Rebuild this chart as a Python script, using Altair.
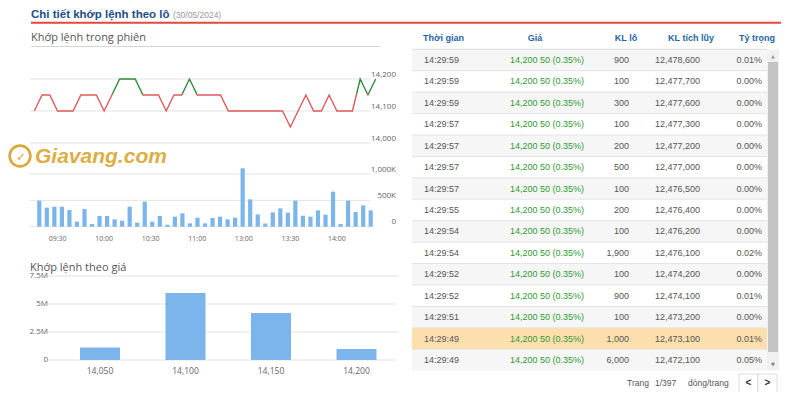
import altair as alt
import pandas as pd

# ---------------- data ----------------
# intraday price line (one point per 5-minute slot)
line_price = [14100, 14150, 14150, 14100, 14100, 14100, 14150, 14150, 14150, 14100,
              14150, 14200, 14200, 14200, 14150, 14150, 14150, 14100, 14150, 14150,
              14200, 14150, 14150, 14150, 14150, 14100, 14100, 14100, 14100, 14100,
              14100, 14100, 14100, 14050, 14100, 14150, 14100, 14100, 14150, 14100,
              14100, 14100, 14200, 14150, 14200]
# matched volume per slot (shares)
slot_volume = [494000, 361000, 380000, 380000, 316000, 95000, 335000, 50000, 203000, 203000,
               140000, 114000, 380000, 76000, 475000, 95000, 203000, 38000, 190000, 253000,
               63000, 171000, 63000, 165000, 190000, 140000, 171000, 1108000, 519000, 234000,
               63000, 272000, 348000, 266000, 494000, 209000, 190000, 310000, 228000, 665000,
               50000, 494000, 278000, 405000, 310000]
time_tick_slots = [3, 9, 15, 21, 27, 33, 39]
time_tick_labels = ["09:30", "10:00", "10:30", "11:00", "13:00", "13:30", "14:00"]
price_ticks = [14000, 14100, 14200]
price_tick_labels = ["14,000", "14,100", "14,200"]
vol_ticks = [0, 500000, 1000000]
vol_tick_labels = ["0", "500K", "1,000K"]

# volume by price
price_levels = ["14,050", "14,100", "14,150", "14,200"]
price_level_volume = [1110000, 5990000, 4190000, 990000]
pv_ticks = [0, 2500000, 5000000, 7500000]
pv_tick_labels = ["0", "2.5M", "5M", "7.5M"]

# trade table
times = ["14:29:59", "14:29:59", "14:29:59", "14:29:57", "14:29:57", "14:29:57", "14:29:57",
         "14:29:55", "14:29:54", "14:29:54", "14:29:52", "14:29:52", "14:29:51", "14:29:49",
         "14:29:49"]
prices = ["14,200 50 (0.35%)"] * 15
lots = [900, 100, 300, 100, 200, 500, 100, 200, 100, 1900, 100, 900, 100, 1000, 6000]
cumulative = [12478600, 12477700, 12477600, 12477300, 12477200, 12477000, 12476500,
              12476400, 12476200, 12476100, 12474200, 12474100, 12473200, 12473100, 12472100]
weights = ["0.01%", "0.00%", "0.00%", "0.00%", "0.00%", "0.00%", "0.00%", "0.00%", "0.00%",
           "0.02%", "0.00%", "0.01%", "0.00%", "0.01%", "0.05%"]
headers = ["Thời gian", "Giá", "KL lô", "KL tích lũy", "Tỷ trọng"]

# ---------------- styling ----------------
FONT = "Open Sans"
TFONT = "Liberation Sans"
RED = "#e05a5a"
GREEN = "#2f8c3a"
BLUE_BAR = "#7cb5ec"
GRID = "#e3e3e3"
LABEL = "#666666"
GOLD = "#d9a93a"


def P(v):
    return v - 8


blank = alt.InlineData(values=[{}])


def text(t, x, y, size, color, weight="normal", align="left", font=FONT, style="normal",
         baseline="middle"):
    return alt.Chart(blank).mark_text(
        text=t, align=align, baseline=baseline, fontSize=size, color=color,
        fontWeight=weight, font=font, fontStyle=style
    ).encode(x=alt.value(P(x)), y=alt.value(P(y)))


def hline(x1, x2, y, color, w=1):
    return alt.Chart(blank).mark_rule(color=color, strokeWidth=w).encode(
        x=alt.value(P(x1)), x2=alt.value(P(x2)), y=alt.value(P(y)))


def box(x1, x2, y1, y2, fill, stroke=None, sw=0, radius=0):
    kw = dict(fill=fill, strokeWidth=sw, cornerRadius=radius)
    if stroke:
        kw["stroke"] = stroke
    return alt.Chart(blank).mark_rect(**kw).encode(
        x=alt.value(P(x1)), x2=alt.value(P(x2)), y=alt.value(P(y1)), y2=alt.value(P(y2)))


layers = []

# ---------------- headings ----------------
layers.append(text("Chi tiết khớp lệnh theo lô", 31, 18.3, 11.5, "#1d4f84", weight="bold",
                   font=TFONT, baseline="alphabetic"))
layers.append(text("(30/05/2024)", 173, 18.3, 8.5, "#9a9a9a", font=TFONT,
                   baseline="alphabetic"))
layers.append(hline(31, 781, 22.8, "#e5473d", 2))
layers.append(text("Khớp lệnh trong phiên", 31, 38, 11, "#555555"))
layers.append(hline(31, 380, 46.5, "#d5d5d5", 1))

# ---------------- intraday line chart ----------------
slot_x = alt.Scale(domain=[0, 44], range=[P(34.3), P(375.7)], nice=False, zero=False)
price_y = alt.Scale(domain=[14000, 14200], range=[P(143), P(79)], nice=False, zero=False)

price_tick_df = pd.DataFrame({"v": price_ticks, "lab": price_tick_labels})
layers.append(alt.Chart(price_tick_df).mark_rule(color=GRID, strokeWidth=1).encode(
    y=alt.Y("v:Q", scale=price_y, axis=None), x=alt.value(P(30)), x2=alt.value(P(370))))
layers.append(alt.Chart(price_tick_df).mark_text(
    align="right", baseline="middle", dy=-4.5, fontSize=8, font=FONT, color=LABEL).encode(
    y=alt.Y("v:Q", scale=price_y, axis=None), x=alt.value(P(396)), text="lab:N"))

line_df = pd.DataFrame({"slot": list(range(len(line_price))), "price": line_price})
grad = alt.LinearGradient(
    gradient="linear",
    stops=[alt.GradientStop(color=GREEN, offset=0), alt.GradientStop(color=GREEN, offset=0.31),
           alt.GradientStop(color=RED, offset=0.31), alt.GradientStop(color=RED, offset=1)],
    x1=0, x2=0, y1=0, y2=1)
layers.append(alt.Chart(line_df).mark_line(stroke=grad, strokeWidth=1.4).encode(
    x=alt.X("slot:Q", scale=slot_x, axis=None),
    y=alt.Y("price:Q", scale=price_y, axis=None)))

# ---------------- watermark ----------------
layers.append(alt.Chart(blank).mark_point(shape="circle", size=430, filled=False,
                                          color=GOLD, strokeWidth=2.6, opacity=1).encode(
    x=alt.value(P(20)), y=alt.value(P(156))))
layers.append(text("✓", 21, 157, 12, GOLD, weight="bold", align="center",
                   font="DejaVu Sans"))
layers.append(text("Giavang.com", 35, 163, 21, "#dcae45", weight="bold", style="italic",
                   font=TFONT, baseline="alphabetic"))

# ---------------- volume by time ----------------
vol_y = alt.Scale(domain=[0, 1000000], range=[P(226.7), P(174)], nice=False, zero=False)
vol_tick_df = pd.DataFrame({"v": vol_ticks, "lab": vol_tick_labels})
layers.append(alt.Chart(vol_tick_df).mark_rule(color=GRID, strokeWidth=1).encode(
    y=alt.Y("v:Q", scale=vol_y, axis=None), x=alt.value(P(30)), x2=alt.value(P(370))))
layers.append(alt.Chart(vol_tick_df).mark_text(
    align="right", baseline="middle", dy=-4.5, fontSize=8, font=FONT, color=LABEL).encode(
    y=alt.Y("v:Q", scale=vol_y, axis=None), x=alt.value(P(396)), text="lab:N"))

vol_df = pd.DataFrame({"slot": list(range(len(slot_volume))), "vol": slot_volume})
layers.append(alt.Chart(vol_df).mark_bar(orient="vertical", width=4.2, color=BLUE_BAR).encode(
    x=alt.X("slot:Q", scale=slot_x, axis=None),
    y=alt.Y("vol:Q", scale=vol_y, axis=None),
    y2=alt.datum(0)))

time_df = pd.DataFrame({"slot": time_tick_slots, "lab": time_tick_labels})
layers.append(alt.Chart(time_df).mark_text(
    align="center", baseline="middle", fontSize=7, font=FONT, color=LABEL).encode(
    x=alt.X("slot:Q", scale=slot_x, axis=None), y=alt.value(P(238.5)), text="lab:N"))

# ---------------- volume by price ----------------
pv_y = alt.Scale(domain=[0, 7500000], range=[P(360), P(276)], nice=False, zero=False)
lvl_x = alt.Scale(domain=[0, 3], range=[P(100), P(356.5)], nice=False, zero=False)
pv_tick_df = pd.DataFrame({"v": pv_ticks, "lab": pv_tick_labels})
layers.append(alt.Chart(pv_tick_df).mark_rule(color=GRID, strokeWidth=1).encode(
    y=alt.Y("v:Q", scale=pv_y, axis=None), x=alt.value(P(48)), x2=alt.value(P(398))))
layers.append(alt.Chart(pv_tick_df).mark_text(
    align="right", baseline="middle", fontSize=8, font=FONT, color=LABEL).encode(
    y=alt.Y("v:Q", scale=pv_y, axis=None), x=alt.value(P(48)), text="lab:N"))
layers.append(text("Khớp lệnh theo giá", 30, 268, 11, "#555555"))

pv_df = pd.DataFrame({"i": list(range(len(price_levels))), "level": price_levels,
                      "vol": price_level_volume})
layers.append(alt.Chart(pv_df).transform_calculate(
    a="datum.i - 0.234", b="datum.i + 0.234").mark_rect(color=BLUE_BAR).encode(
    x=alt.X("a:Q", scale=lvl_x, axis=None), x2="b:Q",
    y=alt.Y("vol:Q", scale=pv_y, axis=None), y2=alt.datum(0)))
layers.append(alt.Chart(pv_df).mark_text(
    align="center", baseline="middle", fontSize=8.5, font=FONT, color=LABEL).encode(
    x=alt.X("i:Q", scale=lvl_x, axis=None), y=alt.value(P(370.5)), text="level:N"))

# ---------------- trade table ----------------
row_y = alt.Scale(domain=[0.5, 15.5], range=[P(49.3), P(370.7)], nice=False, zero=False)
tab_df = pd.DataFrame({"row": list(range(1, 16)), "time": times, "price": prices,
                       "lot": lots, "cum": cumulative, "pct": weights})
bg = alt.Chart(tab_df).transform_calculate(r0="datum.row - 0.5", r1="datum.row + 0.5")
layers.append(bg.transform_filter("datum.row % 2 == 1 && datum.row != 14").mark_rect(
    color="#f6f6f6").encode(y=alt.Y("r0:Q", scale=row_y, axis=None), y2="r1:Q",
                            x=alt.value(P(412)), x2=alt.value(P(767))))
layers.append(bg.transform_filter("datum.row == 14").mark_rect(color="#fddfae").encode(
    y=alt.Y("r0:Q", scale=row_y, axis=None), y2="r1:Q",
    x=alt.value(P(412)), x2=alt.value(P(767))))
layers.append(bg.transform_filter("datum.row < 15").mark_rule(color="#e4e4e4").encode(
    y=alt.Y("r1:Q", scale=row_y, axis=None), x=alt.value(P(412)), x2=alt.value(P(767))))
layers.append(bg.transform_filter("datum.row == 1").mark_rule(color="#dcdcdc").encode(
    y=alt.Y("r0:Q", scale=row_y, axis=None), x=alt.value(P(412)), x2=alt.value(P(767))))

col_specs = [("time:N", 424, "left", "#555555", None),
             ("price:N", 510, "left", "#2f9a33", None),
             ("lot:Q", 629, "right", "#555555", ","),
             ("cum:Q", 655, "left", "#555555", ","),
             ("pct:N", 762, "right", "#555555", None)]
for field, xpos, al, colr, fmt in col_specs:
    t = alt.Text(field, format=fmt) if fmt else alt.Text(field)
    layers.append(alt.Chart(tab_df).mark_text(
        align=al, baseline="middle", fontSize=9, font=TFONT, color=colr).encode(
        y=alt.Y("row:Q", scale=row_y, axis=None), x=alt.value(P(xpos)), text=t))

head_pos = [(423, "left"), (535, "center"), (626, "center"), (691, "center"), (757, "center")]
for h, (hx, al) in zip(headers, head_pos):
    layers.append(text(h, hx, 38, 9, "#2563a6", weight="bold", align=al, font=TFONT))

# scrollbar
layers.append(box(767, 779, 49.5, 370.5, "#f1f1f1"))
layers.append(box(768, 778, 62, 352, "#c3c3c3"))
layers.append(text("▲", 773, 55.5, 5, "#a0a0a0", align="center", font="DejaVu Sans"))
layers.append(text("▼", 773, 363.5, 5, "#7a7a7a", align="center", font="DejaVu Sans"))

# pager
layers.append(text("Trang", 627, 383, 8.5, "#555555", font=TFONT))
layers.append(text("1/397", 655, 383, 8.5, "#555555", font=TFONT))
layers.append(text("dòng/trang", 688, 383, 8.5, "#555555", font=TFONT))
layers.append(box(739, 758, 374, 393, "#ffffff", stroke="#dddddd", sw=1))
layers.append(box(758, 777, 374, 393, "#ffffff", stroke="#dddddd", sw=1))
layers.append(text("<", 748.5, 383, 10, "#333333", weight="bold", align="center", font=TFONT))
layers.append(text(">", 767.5, 383, 10, "#333333", weight="bold", align="center", font=TFONT))

chart = alt.layer(*layers).resolve_scale(
    x="independent", y="independent"
).properties(
    width=784, height=384, padding=0, autosize=alt.AutoSizeParams(type="none"),
    background="#ffffff"
).configure_view(strokeWidth=0)

chart.save("out.html", embed_options={"renderer": "svg", "actions": False})
